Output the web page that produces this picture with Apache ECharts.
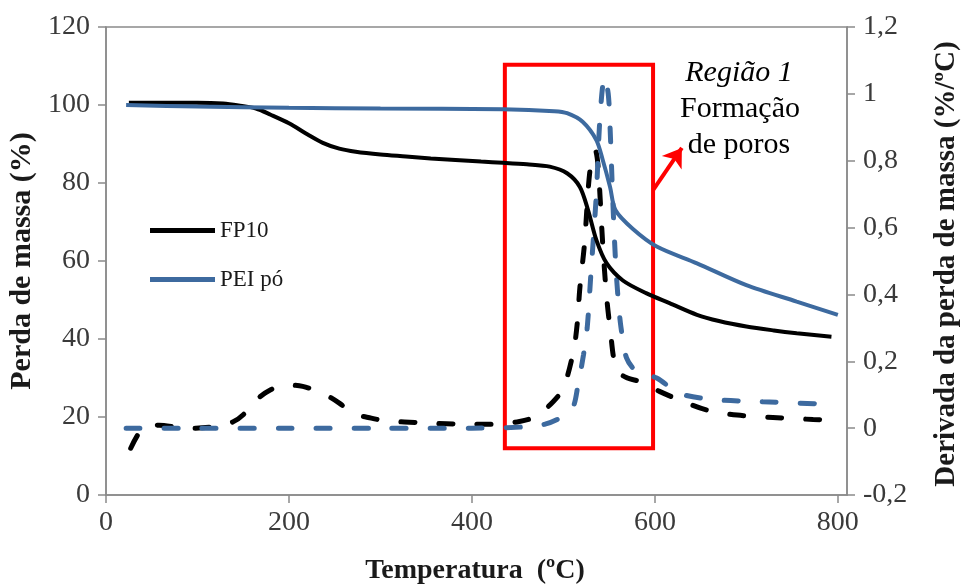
<!DOCTYPE html>
<html>
<head>
<meta charset="utf-8">
<script src="https://cdn.jsdelivr.net/npm/echarts@6/dist/echarts.min.js"></script>
<style>
html,body{margin:0;padding:0;background:#fff;}
#chart{width:963px;height:585px;}
</style>
</head>
<body>
<div id="chart"></div>
<script>
// ---- Data ----
var seriesNames = ['FP10', 'PEI pó'];

// Mass loss (left axis, %)
var fp10Temp = [25, 60, 100, 128, 145, 164, 180, 200, 220, 237, 255, 273, 300, 328, 355, 382, 410, 434, 460, 485, 504, 518, 527, 536, 547, 565, 591, 616, 646, 670, 700, 730, 755, 793];
var fp10Mass = [100.6, 100.6, 100.6, 100.4, 99.9, 99.1, 97.5, 95.3, 92.5, 90.3, 88.8, 88.0, 87.3, 86.8, 86.3, 85.9, 85.5, 85.2, 84.8, 84.2, 82.5, 79.0, 73.0, 65.4, 59.5, 55.0, 51.7, 49.2, 46.2, 44.6, 43.2, 42.2, 41.5, 40.6];

var peiTemp = [22, 100, 200, 300, 434, 490, 504, 521, 536, 543, 551, 557, 576, 602, 646, 700, 755, 800];
var peiMass = [100.0, 99.6, 99.3, 99.1, 98.9, 98.4, 97.9, 95.7, 91.0, 85.9, 79.0, 73.0, 68.2, 63.7, 59.4, 53.8, 49.6, 46.2];

// Derivative of mass loss (right axis, %/°C)
var fp10DtgTemp = [27, 36, 45, 58, 80, 98, 120, 139, 150, 164, 180, 197, 215, 237, 255, 270, 290, 306, 346, 386, 426, 452, 470, 489, 500, 511, 515, 518, 523, 529, 535, 538, 543, 547, 551, 558, 570, 584, 605, 627, 657, 690, 729, 773, 790];
var fp10Dtg = [-0.06, -0.015, 0.005, 0.009, 0.002, 0.0, 0.005, 0.019, 0.04, 0.084, 0.115, 0.129, 0.125, 0.104, 0.075, 0.044, 0.03, 0.022, 0.016, 0.012, 0.012, 0.02, 0.035, 0.08, 0.12, 0.23, 0.31, 0.42, 0.55, 0.77, 0.83, 0.78, 0.55, 0.40, 0.30, 0.174, 0.15, 0.139, 0.11, 0.084, 0.054, 0.039, 0.032, 0.026, 0.025];

var peiDtgTemp = [22, 100, 200, 300, 400, 460, 480, 496, 510, 516, 522, 526, 530, 536, 540, 545, 549, 551, 554, 557, 560, 563, 569, 580, 602, 627, 663, 718, 788];
var peiDtg = [0.0, 0.0, 0.0, 0.0, 0.0, 0.004, 0.012, 0.03, 0.06, 0.13, 0.22, 0.30, 0.46, 0.70, 0.93, 1.05, 1.0, 0.90, 0.68, 0.50, 0.38, 0.30, 0.21, 0.17, 0.15, 0.104, 0.086, 0.079, 0.072];

var xTicks = [0, 200, 400, 600, 800];

// Annotation (Região 1) in data coordinates
var regionBox = {x0: 436, x1: 598, y0: 110.3, y1: 12};
var arrowFrom = [598, 78.2];
var arrowTo = [629.5, 89];

function zip(xs, ys) { return xs.map(function (x, i) { return [x, ys[i]]; }); }

var serif = "'Liberation Serif', 'Times New Roman', serif";
var axisColor = '#8a8a8a';
var labelColor = '#3a3a3a';
var blue = '#3d6a9f';

var chart = echarts.init(document.getElementById('chart'), null, {renderer: 'canvas'});

var option = {
  backgroundColor: '#ffffff',
  animation: false,
  grid: {left: 106, right: 116, top: 27, bottom: 90, show: true, borderColor: axisColor, borderWidth: 1.5, backgroundColor: 'transparent'},
  legend: {
    data: seriesNames,
    orient: 'vertical',
    left: 145,
    top: 214,
    itemWidth: 65,
    itemHeight: 5,
    itemGap: 26,
    icon: 'rect',
    textStyle: {fontFamily: serif, fontSize: 23, color: '#1a1a1a', lineHeight: 22}
  },
  xAxis: {
    type: 'value', min: 0, max: 810, interval: 200,
    axisLine: {show: true, lineStyle: {color: axisColor, width: 1.5}},
    axisTick: {show: true, length: 8, inside: false, customValues: xTicks, lineStyle: {color: axisColor, width: 1.5}},
    axisLabel: {customValues: xTicks, margin: 14, fontFamily: serif, fontSize: 28, color: labelColor},
    splitLine: {show: false}
  },
  yAxis: [{
    type: 'value', position: 'left', min: 0, max: 120, interval: 20,
    axisLine: {show: true, lineStyle: {color: axisColor, width: 1.5}},
    axisTick: {show: true, length: 8, inside: false, lineStyle: {color: axisColor, width: 1.5}},
    axisLabel: {margin: 16, fontFamily: serif, fontSize: 28, color: labelColor},
    splitLine: {show: false}
  }, {
    type: 'value', position: 'right', min: -0.2, max: 1.2, interval: 0.2,
    axisLine: {show: true, lineStyle: {color: axisColor, width: 1.5}},
    axisTick: {show: true, length: 8, inside: false, lineStyle: {color: axisColor, width: 1.5}},
    axisLabel: {margin: 16, fontFamily: serif, fontSize: 28, color: labelColor,
      formatter: function (v) { return String(Math.round(v * 10) / 10).replace('.', ','); }},
    splitLine: {show: false}
  }],
  series: [{
    name: 'FP10', type: 'line', yAxisIndex: 0, data: zip(fp10Temp, fp10Mass),
    showSymbol: false, smooth: 0.3, lineStyle: {color: '#000', width: 4}, itemStyle: {color: '#000'}, z: 3,
    markArea: {
      silent: true,
      itemStyle: {color: 'rgba(0,0,0,0)', borderColor: '#ff0000', borderWidth: 4},
      data: [[{coord: [regionBox.x0, regionBox.y0]}, {coord: [regionBox.x1, regionBox.y1]}]]
    },
    markLine: {
      silent: true, symbol: ['none', 'arrow'], symbolSize: 18,
      lineStyle: {color: '#ff0000', width: 4, type: 'solid'},
      label: {show: false},
      data: [[{coord: arrowFrom}, {coord: arrowTo}]]
    }
  }, {
    name: 'PEI pó', type: 'line', yAxisIndex: 0, data: zip(peiTemp, peiMass),
    showSymbol: false, smooth: 0.3, lineStyle: {color: blue, width: 4}, itemStyle: {color: blue}, z: 3
  }, {
    name: 'FP10 DTG', type: 'line', yAxisIndex: 1, data: zip(fp10DtgTemp, fp10Dtg),
    showSymbol: false, smooth: 0.3, lineStyle: {color: '#000', width: 5, type: [14, 24], cap: 'round'}, z: 2
  }, {
    name: 'PEI pó DTG', type: 'line', yAxisIndex: 1, data: zip(peiDtgTemp, peiDtg),
    showSymbol: false, smooth: 0.3, lineStyle: {color: blue, width: 5, type: [14, 24], cap: 'round'}, z: 2
  }],
  graphic: [
    {type: 'text', x: 22, y: 261, rotation: Math.PI / 2,
      style: {text: 'Perda de massa (%)', font: 'bold 30px ' + serif, fill: '#1a1a1a', textAlign: 'center', textVerticalAlign: 'middle'}},
    {type: 'text', x: 947, y: 264, rotation: Math.PI / 2,
      style: {text: 'Derivada da perda de massa (%/ºC)', font: 'bold 29px ' + serif, fill: '#1a1a1a', textAlign: 'center', textVerticalAlign: 'middle'}},
    {type: 'text', x: 475, y: 571,
      style: {text: 'Temperatura  (ºC)', font: 'bold 28px ' + serif, fill: '#1a1a1a', textAlign: 'center', textVerticalAlign: 'middle'}},
    {type: 'text', x: 739, y: 73,
      style: {text: 'Região 1', font: 'italic 30px ' + serif, fill: '#000', textAlign: 'center', textVerticalAlign: 'middle'}},
    {type: 'text', x: 740, y: 109,
      style: {text: 'Formação', font: '30px ' + serif, fill: '#000', textAlign: 'center', textVerticalAlign: 'middle'}},
    {type: 'text', x: 739, y: 145,
      style: {text: 'de poros', font: '30px ' + serif, fill: '#000', textAlign: 'center', textVerticalAlign: 'middle'}}
  ]
};
chart.setOption(option);
</script>
</body>
</html>
